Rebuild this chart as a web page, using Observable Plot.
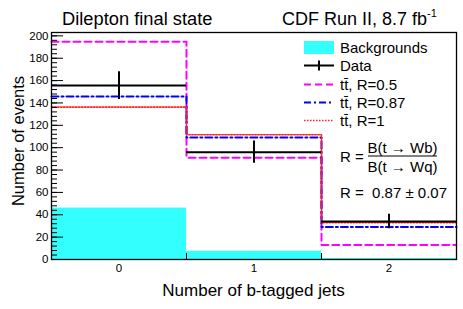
<!DOCTYPE html>
<html><head><meta charset="utf-8">
<script src="https://cdn.jsdelivr.net/npm/d3@7"></script>
<script src="https://cdn.jsdelivr.net/npm/@observablehq/plot@0.6"></script>
<style>body{margin:0;background:#fff}svg text{white-space:pre}</style>
</head><body><div id="chart"></div>
<script>
// ---- data ----
const bins = [0, 1, 2];
const binLabels = ["0", "1", "2"];
const backgrounds = [46, 7.4, 1];
const dataCounts = [155.5, 96, 34];
const dataErrors = [12.5, 10, 6.5];
const ttR05 = [194.7, 91, 13];
const ttR087 = [145.8, 109, 29];
const ttR1 = [136.3, 111.5, 33];
const yMajorTicks = [0, 20, 40, 60, 80, 100, 120, 140, 160, 180, 200];
const yMinorTicks = d3.range(0, 201, 4);
const legendLabels = ["Backgrounds", "Data", "tt\u0304, R=0.5", "tt\u0304, R=0.87", "tt\u0304, R=1"];

// ---- layout ----
const W = 463, H = 309, ML = 51, MR = 7, MT = 32, MB = 50;
const FW = W - ML - MR, FH = H - MT - MB;

const step = vals => bins.map((b, i) => ({x: b - 0.5, y: vals[i]})).concat([{x: bins[bins.length - 1] + 0.5, y: vals[vals.length - 1]}]);
const bkgRows = bins.map((b, i) => ({x1: b - 0.5, x2: b + 0.5, y: backgrounds[i]}));
const dataRows = bins.map((b, i) => ({x: b, x1: b - 0.5, x2: b + 0.5, y: dataCounts[i], lo: dataCounts[i] - dataErrors[i], hi: dataCounts[i] + dataErrors[i]}));
const innerEdges = bins.slice(0, -1).map(b => b + 0.5);

const plot = Plot.plot({
  width: W, height: H,
  marginLeft: ML, marginRight: MR, marginTop: MT, marginBottom: MB,
  style: {fontFamily: "'Liberation Sans', Arial, sans-serif", background: "white", color: "black"},
  x: {domain: [-0.5, 2.5]},
  y: {domain: [0, 203]},
  marks: [
    Plot.rectY(bkgRows, {x1: "x1", x2: "x2", y1: 0, y2: "y", fill: "#33ffff"}),
    Plot.line(step(ttR05), {x: "x", y: "y", curve: "step-after", stroke: "#ff00ff", strokeWidth: 2, strokeDasharray: "7,4"}),
    Plot.line(step(ttR087), {x: "x", y: "y", curve: "step-after", stroke: "#0000ff", strokeWidth: 2, strokeDasharray: "7,3,2,3"}),
    Plot.line(step(ttR1), {x: "x", y: "y", curve: "step-after", stroke: "#ff2020", strokeWidth: 1.6, strokeDasharray: "1.5,1.5"}),
    Plot.ruleY(dataRows, {x1: "x1", x2: "x2", y: "y", stroke: "black", strokeWidth: 2}),
    Plot.ruleX(dataRows, {x: "x", y1: "lo", y2: "hi", stroke: "black", strokeWidth: 2}),
    Plot.tickY(yMinorTicks, {y: d => d, stroke: "black", strokeWidth: 1, insetRight: FW - 6}),
    Plot.tickY(yMajorTicks, {y: d => d, stroke: "black", strokeWidth: 1, insetRight: FW - 12}),
    Plot.tickX(innerEdges, {x: d => d, stroke: "black", strokeWidth: 1, insetTop: FH - 6}),
    Plot.axisY(yMajorTicks, {tickSize: 0, tickPadding: 3, fontSize: 11.5, label: null}),
    Plot.axisX(bins, {tickSize: 0, tickPadding: 4, fontSize: 11.5, tickFormat: (d, i) => binLabels[i], label: null}),
    Plot.frame({stroke: "black", strokeWidth: 1.3})
  ]
});

const svg = d3.select(plot);
const font = "'Liberation Sans', Arial, sans-serif";
function txt(x, y, s, size, anchor = "start", baseline = null) {
  const t = svg.append("text").attr("x", x).attr("y", y).attr("font-size", size)
    .attr("font-family", font).attr("fill", "black").attr("text-anchor", anchor).text(s);
  if (baseline) t.attr("dominant-baseline", baseline);
  return t;
}
// titles
txt(62, 25, "Dilepton final state", 18.3);
const cdf = txt(282, 25, "CDF Run II, 8.7 fb", 18);
cdf.append("tspan").attr("dy", -8).attr("font-size", 11).text("-1");
// axis labels
svg.append("text").attr("transform", "translate(24,141) rotate(-90)").attr("text-anchor", "middle")
  .attr("font-size", 16.5).attr("font-family", font).text("Number of events");
txt(253.5, 296, "Number of b-tagged jets", 17, "middle");

// legend
const lx1 = 304, lx2 = 334, tx = 340;
const ly = [47.5, 65.5, 84.5, 102.5, 120.5];
svg.append("rect").attr("x", lx1).attr("y", 41).attr("width", lx2 - lx1).attr("height", 13).attr("fill", "#33ffff");
svg.append("line").attr("x1", lx1).attr("x2", lx2).attr("y1", ly[1]).attr("y2", ly[1]).attr("stroke", "black").attr("stroke-width", 2);
svg.append("line").attr("x1", (lx1 + lx2) / 2).attr("x2", (lx1 + lx2) / 2).attr("y1", ly[1] - 5).attr("y2", ly[1] + 5).attr("stroke", "black").attr("stroke-width", 2);
svg.append("line").attr("x1", lx1).attr("x2", lx2).attr("y1", ly[2]).attr("y2", ly[2]).attr("stroke", "#ff00ff").attr("stroke-width", 2).attr("stroke-dasharray", "7,4");
svg.append("line").attr("x1", lx1).attr("x2", lx2).attr("y1", ly[3]).attr("y2", ly[3]).attr("stroke", "#0000ff").attr("stroke-width", 2).attr("stroke-dasharray", "7,3,2,3");
svg.append("line").attr("x1", lx1).attr("x2", lx2).attr("y1", ly[4]).attr("y2", ly[4]).attr("stroke", "#ff2020").attr("stroke-width", 1.6).attr("stroke-dasharray", "1.5,1.5");
legendLabels.forEach((s, i) => txt(tx, ly[i], s, 15, "start", "central"));

// formula
txt(tx, 156.5, "R =", 15, "start", "central");
txt(402.5, 147, "B(t \u2192 Wb)", 15, "middle", "central");
svg.append("line").attr("x1", 368).attr("x2", 437).attr("y1", 156).attr("y2", 156).attr("stroke", "black").attr("stroke-width", 1);
txt(402.5, 166, "B(t \u2192 Wq)", 15, "middle", "central");
txt(tx, 192, "R =  0.87 \u00b1 0.07", 15, "start", "central");

document.getElementById("chart").appendChild(plot);
</script>
</body></html>
